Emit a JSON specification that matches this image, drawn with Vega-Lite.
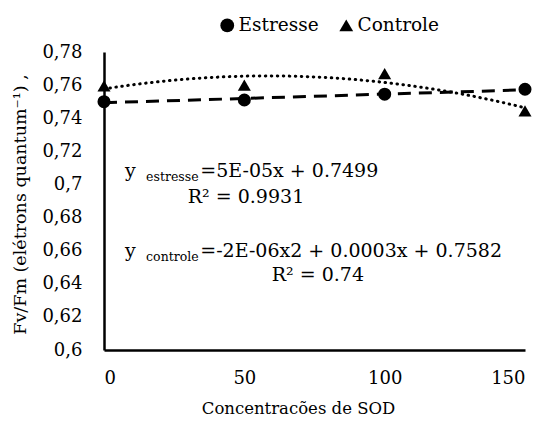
{
  "$schema": "https://vega.github.io/schema/vega-lite/v6.json",
  "width": 421,
  "height": 298,
  "autosize": {"type": "none"},
  "padding": {"left": 104, "top": 52, "right": 20, "bottom": 73},
  "background": "white",
  "config": {
    "view": {"stroke": null},
    "font": "DejaVu Serif",
    "axis": {
      "grid": false,
      "ticks": false,
      "domainColor": "black",
      "domainWidth": 2.5,
      "labelFont": "DejaVu Serif",
      "labelFontSize": 18,
      "labelColor": "black",
      "titleFont": "DejaVu Serif",
      "titleFontSize": 16.5,
      "titleFontWeight": "normal",
      "titleColor": "black"
    }
  },
  "datasets": {
    "pts": [
      {"sod": 0, "fvfm": 0.750, "serie": "Estresse"},
      {"sod": 50, "fvfm": 0.751, "serie": "Estresse"},
      {"sod": 100, "fvfm": 0.7545, "serie": "Estresse"},
      {"sod": 150, "fvfm": 0.7575, "serie": "Estresse"},
      {"sod": 0, "fvfm": 0.7595, "serie": "Controle"},
      {"sod": 50, "fvfm": 0.760, "serie": "Controle"},
      {"sod": 100, "fvfm": 0.767, "serie": "Controle"},
      {"sod": 150, "fvfm": 0.7445, "serie": "Controle"}
    ],
    "notes": [
      {"x": 7.5, "y": 0.7045, "t": "y", "kind": "main"},
      {"x": 15.0, "y": 0.7021, "t": "estresse", "kind": "sub"},
      {"x": 34.3, "y": 0.7045, "t": "=5E-05x + 0.7499", "kind": "main"},
      {"x": 50.6, "y": 0.6888, "t": "R² = 0.9931", "kind": "r2"},
      {"x": 7.5, "y": 0.6562, "t": "y", "kind": "main"},
      {"x": 15.0, "y": 0.6538, "t": "controle", "kind": "sub"},
      {"x": 34.3, "y": 0.6562, "t": "=-2E-06x2 + 0.0003x + 0.7582", "kind": "main"},
      {"x": 76.2, "y": 0.6417, "t": "R² = 0.74", "kind": "r2"}
    ]
  },
  "encoding": {
    "x": {
      "field": "sod",
      "type": "quantitative",
      "scale": {"domain": [0, 150], "nice": false},
      "axis": {
        "values": [0, 50, 100, 150],
        "labelPadding": 19,
        "title": "Concentracões de SOD",
        "titleX": 194,
        "titleY": 63,
        "titleBaseline": "alphabetic"
      }
    },
    "y": {
      "field": "fvfm",
      "type": "quantitative",
      "scale": {"domain": [0.6, 0.78], "nice": false, "zero": false},
      "axis": {
        "values": [0.6, 0.62, 0.64, 0.66, 0.68, 0.7, 0.72, 0.74, 0.76, 0.78],
        "labelExpr": "replace(format(datum.value, '.2~f'), '.', ',')",
        "labelPadding": 22,
        "title": "Fv/Fm (elétrons quantum⁻¹) ,",
        "titleFontSize": 17.5,
        "titleX": -84,
        "titleY": 152,
        "titleAngle": -90,
        "titleAlign": "center",
        "titleBaseline": "middle"
      }
    }
  },
  "layer": [
    {
      "data": {"name": "pts"},
      "transform": [
        {"filter": "datum.serie === 'Estresse'"},
        {"regression": "fvfm", "on": "sod", "method": "linear"}
      ],
      "mark": {"type": "line", "color": "black", "strokeWidth": 3, "strokeDash": [13, 8]}
    },
    {
      "data": {"name": "pts"},
      "transform": [
        {"filter": "datum.serie === 'Controle'"},
        {"regression": "fvfm", "on": "sod", "method": "poly", "order": 2}
      ],
      "mark": {"type": "line", "color": "black", "strokeWidth": 3, "strokeDash": [0.5, 5.5], "strokeCap": "round"}
    },
    {
      "data": {"name": "pts"},
      "mark": {"type": "point", "filled": true, "color": "black", "opacity": 1, "size": 170},
      "encoding": {
        "shape": {
          "field": "serie",
          "type": "nominal",
          "scale": {"domain": ["Estresse", "Controle"], "range": ["circle", "triangle-up"]},
          "legend": {
            "title": null,
            "orient": "none",
            "direction": "horizontal",
            "legendX": 114,
            "legendY": -36,
            "labelFont": "DejaVu Serif",
            "labelFontSize": 18.5,
            "labelColor": "black",
            "labelOffset": 2,
            "columnPadding": 18,
            "symbolSize": 190,
            "symbolFillColor": "black",
            "symbolStrokeColor": "black",
            "symbolStrokeWidth": 0
          }
        }
      }
    },
    {
      "data": {"name": "notes"},
      "transform": [{"filter": "datum.kind === 'main'"}],
      "mark": {"type": "text", "align": "left", "baseline": "alphabetic", "fontSize": 19, "font": "DejaVu Serif", "color": "black"},
      "encoding": {
        "x": {"field": "x", "type": "quantitative"},
        "y": {"field": "y", "type": "quantitative"},
        "text": {"field": "t"}
      }
    },
    {
      "data": {"name": "notes"},
      "transform": [{"filter": "datum.kind === 'sub'"}],
      "mark": {"type": "text", "align": "left", "baseline": "alphabetic", "fontSize": 12.5, "font": "DejaVu Serif", "color": "black"},
      "encoding": {
        "x": {"field": "x", "type": "quantitative"},
        "y": {"field": "y", "type": "quantitative"},
        "text": {"field": "t"}
      }
    },
    {
      "data": {"name": "notes"},
      "transform": [{"filter": "datum.kind === 'r2'"}],
      "mark": {"type": "text", "align": "center", "baseline": "alphabetic", "fontSize": 19, "font": "DejaVu Serif", "color": "black"},
      "encoding": {
        "x": {"field": "x", "type": "quantitative"},
        "y": {"field": "y", "type": "quantitative"},
        "text": {"field": "t"}
      }
    }
  ]
}
